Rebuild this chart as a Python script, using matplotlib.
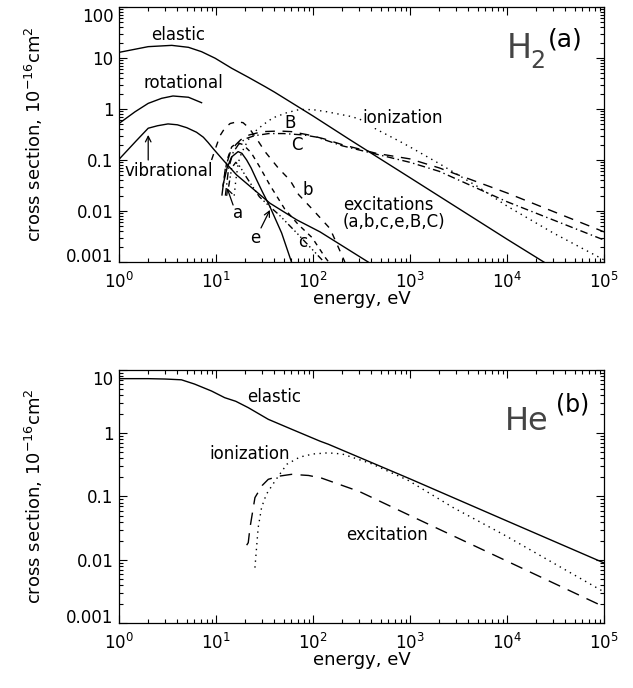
import numpy as np
import matplotlib.pyplot as plt
import matplotlib.transforms as mtrans
from matplotlib.ticker import LogLocator, NullFormatter

plt.rcParams['font.family'] = ['DejaVu Sans']
plt.rcParams['mathtext.fontset'] = 'dejavusans'

# ---- H2 (panel a), energies in eV, cross sections in 1e-16 cm^2 ----
h2_el_E = [1, 2, 3.5, 5.2, 7.1, 9.8, 14.5, 21.5, 32, 40, 100, 240, 1000, 1e4, 2.5e4]
h2_el_s = [12.9, 16.7, 17.7, 16.2, 13.3, 9.9, 6.3, 4.2, 2.75, 2.15, 0.73, 0.25, 0.045, 0.0028, 0.00095]

h2_rot_E = [1, 1.46, 2, 2.75, 3.6, 5.2, 7.1]
h2_rot_s = [0.52, 0.88, 1.29, 1.62, 1.8, 1.7, 1.33]

h2_vib_E = [1, 1.5, 2, 2.5, 3.2, 4, 5, 6.3, 7.4, 8.3, 9.4, 12, 16.3, 25, 36, 68, 118, 370]
h2_vib_s = [0.103, 0.236, 0.42, 0.47, 0.51, 0.49, 0.43, 0.35, 0.28, 0.22, 0.165, 0.097, 0.051,
            0.0256, 0.0142, 0.0067, 0.0039, 0.001]

h2_ion_E = [15.4, 16, 17, 18.4, 20, 21.5, 26, 30.5, 38.6, 54, 73, 100, 138, 240, 300, 450,
            790, 1000, 2000, 5000, 1e4, 3e4, 1e5]
h2_ion_s = [0.02, 0.04, 0.09, 0.14, 0.19, 0.25, 0.38, 0.49, 0.67, 0.85, 0.98, 0.97, 0.885,
            0.72, 0.64, 0.4, 0.23, 0.18, 0.085, 0.03, 0.0125, 0.0037, 0.0011]

h2_B_E = [11.5, 12.5, 14, 16, 18, 22, 30, 45, 60, 90, 130, 200, 450, 1000, 2000, 1e4, 1e5]
h2_B_s = [0.02, 0.07, 0.14, 0.2, 0.25, 0.31, 0.36, 0.37, 0.36, 0.31, 0.26, 0.2, 0.135,
          0.105, 0.07, 0.0226, 0.0039]

h2_C_E = [12.5, 13.5, 15, 17, 20, 25, 35, 50, 80, 110, 200, 450, 1000, 2000, 1e4, 1e5]
h2_C_s = [0.02, 0.07, 0.14, 0.2, 0.26, 0.3, 0.33, 0.33, 0.31, 0.28, 0.19, 0.13, 0.09,
          0.06, 0.0152, 0.0027]

h2_b_E = [9, 10, 11, 12.3, 14, 16.5, 19, 22, 27, 32, 44, 58, 71, 100, 150, 213]
h2_b_s = [0.1, 0.18, 0.3, 0.42, 0.52, 0.56, 0.54, 0.42, 0.24, 0.146, 0.069, 0.04, 0.021,
          0.0105, 0.0045, 0.001]

h2_c_E = [11.8, 13, 14.5, 16.5, 19, 23, 28, 36, 51, 70, 98, 133, 145]
h2_c_s = [0.03, 0.1, 0.18, 0.22, 0.2, 0.14, 0.075, 0.032, 0.011, 0.0055, 0.003, 0.00124, 0.001]

h2_a_E = [11.8, 13, 14.5, 16.9, 18.5, 20.7, 23, 26.2, 30, 36, 47.5, 60]
h2_a_s = [0.032, 0.07, 0.115, 0.146, 0.135, 0.1, 0.07, 0.041, 0.024, 0.0121, 0.0037, 0.001]

h2_e_E = [13.5, 14.5, 16, 17.7, 20, 22.4, 28, 36, 45, 70, 100, 130]
h2_e_s = [0.03, 0.07, 0.09, 0.074, 0.05, 0.036, 0.019, 0.0121, 0.0083, 0.0035, 0.0017, 0.001]

# ---- He (panel b) ----
he_el_E = [1, 2, 3, 4.4, 6, 9, 12.3, 16, 21.5, 34.6, 60, 118, 144, 1000, 1e4, 1e5]
he_el_s = [7.3, 7.3, 7.2, 7.0, 6.0, 4.65, 3.65, 3.2, 2.54, 1.66, 1.16, 0.75, 0.67, 0.19,
           0.041, 0.0089]

he_ion_E = [25.2, 26.2, 27.2, 29.5, 33, 40.6, 53.7, 73, 100, 143, 200, 400, 958, 2800, 9200, 1e5]
he_ion_s = [0.0075, 0.0157, 0.032, 0.067, 0.108, 0.176, 0.323, 0.42, 0.47, 0.49, 0.47, 0.33,
            0.18, 0.0665, 0.025, 0.0031]

he_exc_E = [20.7, 21.5, 22.4, 25.2, 30, 34.6, 45, 60, 90, 123, 300, 1000, 1e4, 1e5]
he_exc_s = [0.017, 0.0186, 0.032, 0.096, 0.15, 0.187, 0.21, 0.224, 0.215, 0.195, 0.12,
            0.05, 0.0095, 0.0018]

ylabel = r'cross section, 10$^{-16}$cm$^{2}$'

DOT = (1, 3.2)
DASH = (4.5, 5)
SDASH = (3.5, 3.5)
LDASH = (7, 5.5)
DASHDOT = (5.5, 2.5, 1, 2.5)
DASH3DOT = (4.5, 2, 1, 2, 1, 2, 1, 2)

fig = plt.figure(figsize=(6.33, 6.88), dpi=100)
ax1 = fig.add_axes([0.188, 0.6192, 0.7662, 0.3706])
ax2 = fig.add_axes([0.188, 0.0945, 0.7662, 0.3677])


def style_axes(ax, yticks):
    ax.set_xscale('log')
    ax.set_yscale('log')
    ax.set_xlim(1, 1e5)
    ax.set_ylim(yticks[0], yticks[-1])
    ax.xaxis.set_major_locator(LogLocator(base=10, numticks=10))
    ax.xaxis.set_minor_locator(LogLocator(base=10, subs=np.arange(2, 10), numticks=20))
    ax.xaxis.set_minor_formatter(NullFormatter())
    ax.set_yticks(yticks)
    ax.set_yticklabels(['%g' % v for v in yticks])
    ax.yaxis.set_minor_locator(LogLocator(base=10, subs=np.arange(2, 10), numticks=20))
    ax.yaxis.set_minor_formatter(NullFormatter())
    ax.tick_params(which='both', direction='in', top=True, right=True, width=0.8)
    ax.tick_params(which='major', length=6, labelsize=12)
    ax.tick_params(axis='x', which='major', pad=7)
    ax.tick_params(axis='y', which='major', pad=4)
    ax.tick_params(which='minor', length=3)
    for s in ax.spines.values():
        s.set_linewidth(0.9)
    # IDL nudges the end labels inward so they stay inside the frame
    ticks = ax.yaxis.get_major_ticks()
    up = mtrans.ScaledTranslation(0, 5 / 72, fig.dpi_scale_trans)
    down = mtrans.ScaledTranslation(0, -5.8 / 72, fig.dpi_scale_trans)
    ticks[0].label1.set_transform(ticks[0].label1.get_transform() + up)
    ticks[-1].label1.set_transform(ticks[-1].label1.get_transform() + down)
    ax.set_ylabel(ylabel, fontsize=13)
    ax.yaxis.set_label_coords(-0.152, 0.5)
    ax.set_xlabel('energy, eV', fontsize=13, va='top')
    ax.xaxis.set_label_coords(0.5, -0.11)


style_axes(ax1, [0.001, 0.01, 0.1, 1, 10, 100])
style_axes(ax2, [0.001, 0.01, 0.1, 1, 10])

lw = 1.0
ax1.plot(h2_el_E, h2_el_s, 'k-', lw=lw)
ax1.plot(h2_rot_E, h2_rot_s, 'k-', lw=lw)
ax1.plot(h2_vib_E, h2_vib_s, 'k-', lw=lw)
ax1.plot(h2_a_E, h2_a_s, 'k-', lw=lw)
ax1.plot(h2_ion_E, h2_ion_s, 'k', lw=lw, dashes=DOT)
ax1.plot(h2_B_E, h2_B_s, 'k', lw=lw, dashes=LDASH)
ax1.plot(h2_C_E, h2_C_s, 'k', lw=lw, dashes=DASHDOT)
ax1.plot(h2_b_E, h2_b_s, 'k', lw=lw, dashes=DASH)
ax1.plot(h2_c_E, h2_c_s, 'k', lw=lw, dashes=SDASH)
ax1.plot(h2_e_E, h2_e_s, 'k', lw=lw, dashes=DASH3DOT)

fs = 12
ax1.text(4.06, 28.2, 'elastic', fontsize=fs, ha='center', va='center')
ax1.text(4.57, 3.24, 'rotational', fontsize=fs, ha='center', va='center')
ax1.text(1.15, 0.061, 'vibrational', fontsize=fs, ha='left', va='center')
ax1.text(847, 0.667, 'ionization', fontsize=fs, ha='center', va='center',
         bbox=dict(facecolor='white', edgecolor='none', pad=0.5))
ax1.text(16.9, 0.0091, 'a', fontsize=fs, ha='center', va='center')
ax1.text(25.2, 0.00295, 'e', fontsize=fs, ha='center', va='center')
ax1.text(88.8, 0.0258, 'b', fontsize=fs, ha='center', va='center')
ax1.text(78.8, 0.00247, 'c', fontsize=fs, ha='center', va='center')
ax1.text(57.9, 0.531, 'B', fontsize=fs, ha='center', va='center')
ax1.text(68.4, 0.197, 'C', fontsize=fs, ha='center', va='center')
ax1.text(204, 0.0088, 'excitations\n(a,b,c,e,B,C)', fontsize=fs, ha='left', va='center',
         linespacing=0.95)

arr = dict(arrowstyle='->', lw=0.9, color='k', shrinkA=0, shrinkB=0)
ax1.annotate('', xy=(2.0, 0.31), xytext=(2.0, 0.1), arrowprops=arr)
ax1.annotate('', xy=(13.0, 0.0283), xytext=(15.0, 0.0131), arrowprops=arr)
ax1.annotate('', xy=(36.0, 0.0105), xytext=(29.1, 0.00465), arrowprops=arr)

ax1.text(0.80, 0.80, 'H', fontsize=24, transform=ax1.transAxes, ha='left', va='baseline',
         color='#444444')
ax1.text(0.847, 0.761, '2', fontsize=17, transform=ax1.transAxes, ha='left', va='baseline',
         color='#444444')
ax1.text(0.885, 0.844, '(a)', fontsize=18, transform=ax1.transAxes, ha='left', va='baseline')

ax2.plot(he_el_E, he_el_s, 'k-', lw=lw)
ax2.plot(he_ion_E, he_ion_s, 'k', lw=lw, dashes=DOT)
ax2.plot(he_exc_E, he_exc_s, 'k', lw=lw, dashes=(9, 6))

ax2.text(39.6, 3.74, 'elastic', fontsize=fs, ha='center', va='center')
ax2.text(22.4, 0.47, 'ionization', fontsize=fs, ha='center', va='center')
ax2.text(580, 0.0246, 'excitation', fontsize=fs, ha='center', va='center')
ax2.text(0.796, 0.763, 'He', fontsize=23, transform=ax2.transAxes, ha='left', va='baseline',
         color='#444444')
ax2.text(0.90, 0.835, '(b)', fontsize=17, transform=ax2.transAxes, ha='left', va='baseline')

fig.savefig('out.png', dpi=100)
